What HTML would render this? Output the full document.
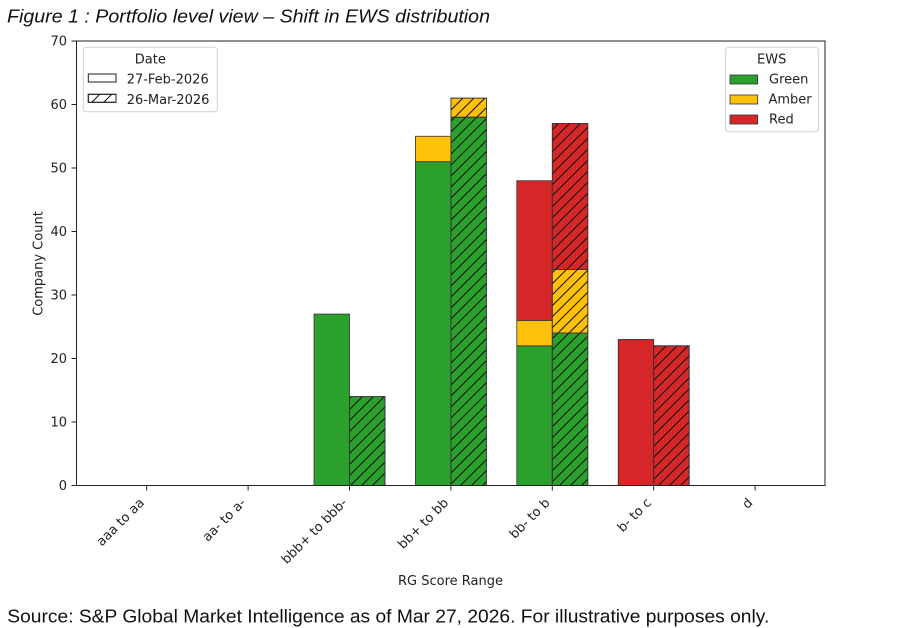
<!DOCTYPE html>
<html>
<head>
<meta charset="utf-8">
<style>
  html, body { margin: 0; padding: 0; background: #ffffff; }
  svg { display: block; }
  .mpl { font-family: "DejaVu Sans", "Liberation Sans", sans-serif; fill: #222; }
</style>
</head>
<body>
<svg width="901" height="628" viewBox="0 0 901 628" xmlns="http://www.w3.org/2000/svg">
  <defs>
    <pattern id="hatch" patternUnits="userSpaceOnUse" width="11" height="11">
      <line x1="0" y1="11" x2="11" y2="0" stroke="#111" stroke-width="1"/>
      <line x1="-1" y1="1" x2="1" y2="-1" stroke="#111" stroke-width="1"/>
      <line x1="10" y1="12" x2="12" y2="10" stroke="#111" stroke-width="1"/>
    </pattern>
    <pattern id="hatchL" patternUnits="userSpaceOnUse" width="12" height="12" x="88" y="94">
      <line x1="0" y1="12" x2="12" y2="0" stroke="#111" stroke-width="1"/>
      <line x1="-1" y1="1" x2="1" y2="-1" stroke="#111" stroke-width="1"/>
      <line x1="11" y1="13" x2="13" y2="11" stroke="#111" stroke-width="1"/>
    </pattern>
  </defs>

  <rect x="0" y="0" width="901" height="628" fill="#ffffff"/>

  <!-- Title -->
  <text x="7" y="22.5" font-family="Liberation Sans, sans-serif" font-style="italic" font-size="18" fill="#111" textLength="483" lengthAdjust="spacingAndGlyphs">Figure 1 : Portfolio level view – Shift in EWS distribution</text>

  <!-- Bars: bbb+ to bbb- -->
  <g stroke="#333" stroke-width="0.8">
    <rect x="314" y="314.05" width="35.5" height="171.45" fill="#2ca02c"/>
    <rect x="349.5" y="396.6" width="35.5" height="88.9" fill="#2ca02c"/>
    <rect x="349.5" y="396.6" width="35.5" height="88.9" fill="url(#hatch)"/>

    <!-- bb+ to bb Feb -->
    <rect x="415.4" y="161.65" width="35.5" height="323.85" fill="#2ca02c"/>
    <rect x="415.4" y="136.25" width="35.5" height="25.4" fill="#ffc107"/>
    <!-- bb+ to bb Mar -->
    <rect x="450.9" y="117.2" width="35.5" height="368.3" fill="#2ca02c"/>
    <rect x="450.9" y="117.2" width="35.5" height="368.3" fill="url(#hatch)"/>
    <rect x="450.9" y="98.15" width="35.5" height="19.05" fill="#ffc107"/>
    <rect x="450.9" y="98.15" width="35.5" height="19.05" fill="url(#hatch)"/>

    <!-- bb- to b Feb -->
    <rect x="516.8" y="345.8" width="35.5" height="139.7" fill="#2ca02c"/>
    <rect x="516.8" y="320.4" width="35.5" height="25.4" fill="#ffc107"/>
    <rect x="516.8" y="180.7" width="35.5" height="139.7" fill="#d62728"/>
    <!-- bb- to b Mar -->
    <rect x="552.3" y="333.1" width="35.5" height="152.4" fill="#2ca02c"/>
    <rect x="552.3" y="333.1" width="35.5" height="152.4" fill="url(#hatch)"/>
    <rect x="552.3" y="269.6" width="35.5" height="63.5" fill="#ffc107"/>
    <rect x="552.3" y="269.6" width="35.5" height="63.5" fill="url(#hatch)"/>
    <rect x="552.3" y="123.55" width="35.5" height="146.05" fill="#d62728"/>
    <rect x="552.3" y="123.55" width="35.5" height="146.05" fill="url(#hatch)"/>

    <!-- b- to c -->
    <rect x="618.2" y="339.45" width="35.5" height="146.05" fill="#d62728"/>
    <rect x="653.7" y="345.8" width="35.5" height="139.7" fill="#d62728"/>
    <rect x="653.7" y="345.8" width="35.5" height="139.7" fill="url(#hatch)"/>
  </g>

  <!-- Axes frame -->
  <rect x="76.5" y="41" width="748.5" height="444.5" fill="none" stroke="#222" stroke-width="1"/>

  <!-- Y ticks -->
  <g stroke="#222" stroke-width="1">
    <line x1="71.5" y1="485.5" x2="76.5" y2="485.5"/>
    <line x1="71.5" y1="422" x2="76.5" y2="422"/>
    <line x1="71.5" y1="358.5" x2="76.5" y2="358.5"/>
    <line x1="71.5" y1="295" x2="76.5" y2="295"/>
    <line x1="71.5" y1="231.5" x2="76.5" y2="231.5"/>
    <line x1="71.5" y1="168" x2="76.5" y2="168"/>
    <line x1="71.5" y1="104.5" x2="76.5" y2="104.5"/>
    <line x1="71.5" y1="41" x2="76.5" y2="41"/>
  </g>
  <g class="mpl" font-size="13" text-anchor="end">
    <text x="67" y="490">0</text>
    <text x="67" y="426.5">10</text>
    <text x="67" y="363">20</text>
    <text x="67" y="299.5">30</text>
    <text x="67" y="236">40</text>
    <text x="67" y="172.5">50</text>
    <text x="67" y="109">60</text>
    <text x="67" y="45.5">70</text>
  </g>

  <!-- X ticks -->
  <g stroke="#222" stroke-width="1">
    <line x1="146.7" y1="485.5" x2="146.7" y2="490.5"/>
    <line x1="248.1" y1="485.5" x2="248.1" y2="490.5"/>
    <line x1="349.5" y1="485.5" x2="349.5" y2="490.5"/>
    <line x1="450.9" y1="485.5" x2="450.9" y2="490.5"/>
    <line x1="552.3" y1="485.5" x2="552.3" y2="490.5"/>
    <line x1="653.7" y1="485.5" x2="653.7" y2="490.5"/>
    <line x1="755.1" y1="485.5" x2="755.1" y2="490.5"/>
  </g>
  <g class="mpl" font-size="13" text-anchor="end">
    <text transform="translate(145,503.5) rotate(-45)">aaa to aa</text>
    <text transform="translate(246.4,503.5) rotate(-45)">aa- to a-</text>
    <text transform="translate(347.8,503.5) rotate(-45)">bbb+ to bbb-</text>
    <text transform="translate(449.2,503.5) rotate(-45)">bb+ to bb</text>
    <text transform="translate(550.6,503.5) rotate(-45)">bb- to b</text>
    <text transform="translate(652,503.5) rotate(-45)">b- to c</text>
    <text transform="translate(753.4,503.5) rotate(-45)">d</text>
  </g>

  <!-- Axis labels -->
  <text class="mpl" x="450.5" y="585" font-size="13" text-anchor="middle">RG Score Range</text>
  <text class="mpl" transform="translate(42.5,263.5) rotate(-90)" font-size="13" text-anchor="middle">Company Count</text>

  <!-- Date legend -->
  <rect x="83.3" y="47.3" width="134" height="64.4" rx="3" ry="3" fill="#ffffff" fill-opacity="0.8" stroke="#d0d0d0" stroke-width="1"/>
  <text class="mpl" x="150.3" y="63.5" font-size="13" text-anchor="middle">Date</text>
  <rect x="88.3" y="74" width="27.7" height="8" fill="#ffffff" stroke="#222" stroke-width="1"/>
  <text class="mpl" x="126.7" y="83.5" font-size="13">27-Feb-2026</text>
  <rect x="88.3" y="94.3" width="27.7" height="8" fill="#ffffff" stroke="#222" stroke-width="1"/>
  <rect x="88.3" y="94.3" width="27.7" height="8" fill="url(#hatchL)" stroke="#222" stroke-width="1"/>
  <text class="mpl" x="126.7" y="104" font-size="13">26-Mar-2026</text>

  <!-- EWS legend -->
  <rect x="725.7" y="47.3" width="92.6" height="84.4" rx="3" ry="3" fill="#ffffff" fill-opacity="0.8" stroke="#d0d0d0" stroke-width="1"/>
  <text class="mpl" x="771.7" y="63.5" font-size="13" text-anchor="middle">EWS</text>
  <rect x="730" y="75" width="27.7" height="9" fill="#2ca02c" stroke="#333" stroke-width="0.8"/>
  <text class="mpl" x="769" y="83.5" font-size="13">Green</text>
  <rect x="730" y="95" width="27.7" height="9" fill="#ffc107" stroke="#333" stroke-width="0.8"/>
  <text class="mpl" x="768.5" y="103.5" font-size="13">Amber</text>
  <rect x="730" y="115" width="27.7" height="9" fill="#d62728" stroke="#333" stroke-width="0.8"/>
  <text class="mpl" x="769" y="123.5" font-size="13">Red</text>

  <!-- Source -->
  <text x="7.3" y="622.5" font-family="Liberation Sans, Arial, sans-serif" font-size="18" fill="#111" textLength="762" lengthAdjust="spacingAndGlyphs">Source: S&amp;P Global Market Intelligence as of Mar 27, 2026. For illustrative purposes only.</text>
</svg>
</body>
</html>
